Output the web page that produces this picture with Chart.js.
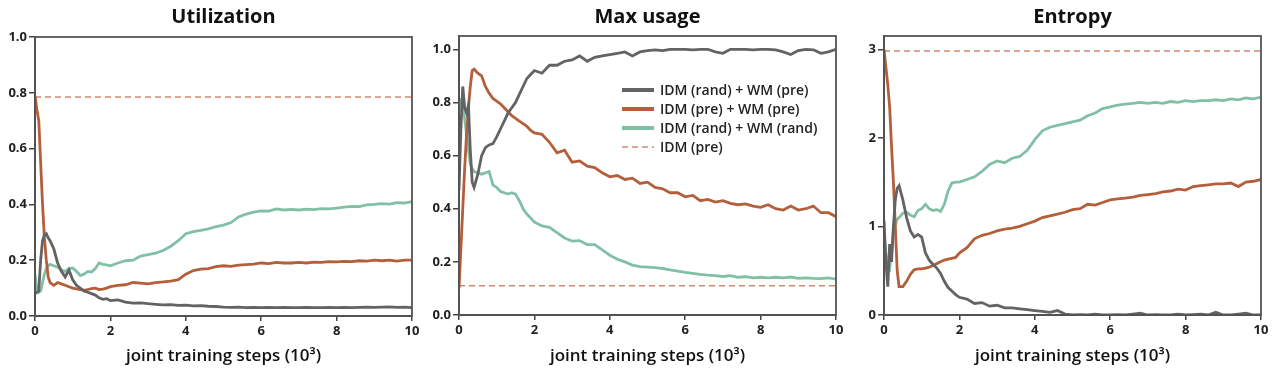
<!DOCTYPE html>
<html>
<head>
<meta charset="utf-8">
<script src="https://cdn.jsdelivr.net/npm/chart.js@4.4.1/dist/chart.umd.min.js"></script>
<style>
  html, body { margin: 0; padding: 0; background: #fff; }
  body { width: 1280px; height: 369px; position: relative; overflow: hidden; }
  .panel { position: absolute; top: 0; height: 369px; }
</style>
</head>
<body>
<div class="panel" style="left:0;width:424px"><canvas id="util"></canvas></div>
<div class="panel" style="left:424px;width:424px"><canvas id="maxu"></canvas></div>
<div class="panel" style="left:848px;width:432px"><canvas id="entropy"></canvas></div>
<script>
// training steps (x 10^3)
const steps = [0, 0.05, 0.1, 0.15, 0.2, 0.25, 0.3, 0.35, 0.4, 0.5, 0.6, 0.7, 0.8, 0.9, 1.0,
  1.1, 1.2, 1.3, 1.4, 1.5, 1.6, 1.7, 1.8, 1.9, 2.0, 2.2, 2.4, 2.6, 2.8, 3.0, 3.2, 3.4, 3.6, 3.8,
  4.0, 4.2, 4.4, 4.6, 4.8, 5.0, 5.2, 5.4, 5.6, 5.8, 6.0, 6.2, 6.4, 6.6, 6.8, 7.0, 7.2, 7.4, 7.6,
  7.8, 8.0, 8.2, 8.4, 8.6, 8.8, 9.0, 9.2, 9.4, 9.6, 9.8, 10.0]

const labels = ['IDM (rand) + WM (pre)', 'IDM (pre) + WM (pre)', 'IDM (rand) + WM (rand)', 'IDM (pre)']
const colors = ['#636363', '#b45f3b', '#82c0a6', '#cf8a6e']

// Utilization
const utilRandPre = [0.08, 0.085, 0.09, 0.2, 0.27, 0.29, 0.295, 0.28, 0.27, 0.24, 0.19, 0.16, 0.14, 0.165, 0.13,
  0.11, 0.1, 0.09, 0.085, 0.08, 0.075, 0.065, 0.06, 0.062, 0.055, 0.058, 0.05, 0.046, 0.047, 0.044, 0.042, 0.04, 0.041, 0.038,
  0.039, 0.036, 0.037, 0.035, 0.034, 0.032, 0.031, 0.032, 0.03, 0.031, 0.03, 0.031, 0.03, 0.031, 0.03, 0.03, 0.031, 0.03, 0.03,
  0.031, 0.03, 0.031, 0.03, 0.031, 0.032, 0.031, 0.032, 0.033, 0.031, 0.032, 0.03]
const utilPrePre = [0.79, 0.74, 0.7, 0.55, 0.4, 0.28, 0.2, 0.14, 0.12, 0.11, 0.12, 0.115, 0.11, 0.105, 0.1,
  0.097, 0.095, 0.092, 0.095, 0.098, 0.1, 0.095, 0.096, 0.1, 0.105, 0.11, 0.112, 0.12, 0.118, 0.115, 0.12, 0.122, 0.125, 0.13,
  0.15, 0.163, 0.168, 0.17, 0.177, 0.18, 0.178, 0.182, 0.184, 0.186, 0.19, 0.188, 0.192, 0.19, 0.19, 0.192, 0.19, 0.193, 0.192,
  0.195, 0.194, 0.196, 0.195, 0.198, 0.197, 0.2, 0.198, 0.2, 0.197, 0.2, 0.2]
const utilRandRand = [0.15, 0.1, 0.085, 0.09, 0.12, 0.15, 0.17, 0.18, 0.185, 0.18, 0.175, 0.165, 0.16, 0.17, 0.172,
  0.16, 0.145, 0.15, 0.16, 0.158, 0.17, 0.19, 0.185, 0.183, 0.18, 0.19, 0.198, 0.2, 0.215, 0.22, 0.225, 0.235, 0.25, 0.27,
  0.295, 0.302, 0.307, 0.312, 0.32, 0.326, 0.335, 0.355, 0.365, 0.372, 0.377, 0.376, 0.384, 0.38, 0.382, 0.38, 0.383, 0.381, 0.385,
  0.384, 0.387, 0.39, 0.393, 0.392, 0.398, 0.4, 0.403, 0.401, 0.406, 0.405, 0.41]
const utilPre = 0.785

// Max usage
const maxRandPre = [0.47, 0.7, 0.86, 0.78, 0.76, 0.79, 0.62, 0.5, 0.48, 0.53, 0.6, 0.63, 0.64, 0.645, 0.67,
  0.7, 0.73, 0.76, 0.78, 0.8, 0.83, 0.86, 0.89, 0.905, 0.92, 0.91, 0.94, 0.94, 0.955, 0.96, 0.975, 0.955, 0.97, 0.975,
  0.98, 0.985, 0.99, 0.975, 0.99, 0.995, 0.998, 0.995, 1.0, 1.0, 1.0, 0.998, 1.0, 1.0, 0.99, 0.985, 1.0, 1.0, 1.0,
  0.998, 1.0, 1.0, 0.998, 0.99, 0.98, 0.995, 1.0, 0.998, 0.985, 0.99, 1.0]
const maxPrePre = [0.1, 0.25, 0.4, 0.55, 0.68, 0.78, 0.86, 0.92, 0.925, 0.91, 0.9, 0.86, 0.835, 0.815, 0.805,
  0.795, 0.78, 0.765, 0.75, 0.74, 0.73, 0.72, 0.71, 0.695, 0.685, 0.68, 0.65, 0.61, 0.62, 0.575, 0.58, 0.56, 0.555, 0.535,
  0.52, 0.525, 0.51, 0.515, 0.495, 0.5, 0.48, 0.475, 0.46, 0.46, 0.445, 0.45, 0.43, 0.435, 0.425, 0.43, 0.42, 0.415, 0.418,
  0.41, 0.405, 0.415, 0.4, 0.395, 0.41, 0.395, 0.4, 0.41, 0.385, 0.385, 0.37]
const maxRandRand = [0.76, 0.8, 0.78, 0.74, 0.68, 0.62, 0.57, 0.55, 0.54, 0.535, 0.53, 0.535, 0.54, 0.49, 0.48,
  0.465, 0.46, 0.455, 0.46, 0.455, 0.43, 0.4, 0.38, 0.365, 0.35, 0.335, 0.33, 0.31, 0.29, 0.278, 0.28, 0.265, 0.265, 0.245,
  0.225, 0.21, 0.2, 0.188, 0.182, 0.18, 0.178, 0.175, 0.17, 0.165, 0.16, 0.157, 0.153, 0.15, 0.148, 0.145, 0.148, 0.142, 0.144,
  0.14, 0.142, 0.14, 0.142, 0.14, 0.143, 0.138, 0.14, 0.138, 0.137, 0.14, 0.135]
const maxPre = 0.11

// Entropy
const entRandPre = [1.07, 0.6, 0.32, 0.8, 0.6, 1.0, 1.3, 1.43, 1.46, 1.3, 1.1, 0.95, 0.88, 0.91, 0.88,
  0.7, 0.62, 0.57, 0.53, 0.47, 0.38, 0.31, 0.27, 0.23, 0.2, 0.18, 0.13, 0.14, 0.1, 0.11, 0.08, 0.08, 0.07, 0.06,
  0.05, 0.04, 0.03, 0.05, 0.01, 0.0, 0.005, 0.0, 0.01, 0.0, 0.0, 0.005, 0.0, 0.01, 0.02, 0.0, 0.005, 0.0, 0.0,
  0.01, 0.0, 0.005, 0.01, 0.0, 0.03, 0.0, 0.0, 0.01, 0.02, 0.0, 0.0]
const entPrePre = [3.0, 2.8, 2.6, 2.35, 1.9, 1.5, 1.0, 0.5, 0.32, 0.32, 0.38, 0.46, 0.51, 0.52, 0.52,
  0.53, 0.54, 0.56, 0.58, 0.6, 0.62, 0.63, 0.64, 0.65, 0.7, 0.76, 0.86, 0.9, 0.92, 0.95, 0.97, 0.98, 1.0, 1.03,
  1.06, 1.1, 1.12, 1.14, 1.16, 1.19, 1.2, 1.25, 1.24, 1.27, 1.3, 1.31, 1.32, 1.33, 1.35, 1.36, 1.37, 1.39, 1.4,
  1.42, 1.41, 1.45, 1.46, 1.47, 1.48, 1.48, 1.49, 1.45, 1.5, 1.51, 1.53]
const entRandRand = [0.9, 0.7, 0.55, 0.52, 0.7, 0.95, 1.02, 1.08, 1.1, 1.15, 1.16, 1.13, 1.11, 1.18, 1.2,
  1.25, 1.2, 1.18, 1.19, 1.17, 1.25, 1.4, 1.49, 1.5, 1.5, 1.53, 1.56, 1.62, 1.7, 1.74, 1.72, 1.77, 1.79, 1.86,
  1.98, 2.08, 2.12, 2.14, 2.16, 2.18, 2.2, 2.25, 2.28, 2.33, 2.35, 2.37, 2.38, 2.39, 2.4, 2.39, 2.4, 2.39, 2.41,
  2.4, 2.42, 2.41, 2.42, 2.42, 2.43, 2.42, 2.44, 2.43, 2.45, 2.44, 2.46]
const entPre = 2.98

const FONT = "'Open Sans', 'DejaVu Sans', sans-serif"
Chart.defaults.font.family = FONT
Chart.defaults.color = '#222'

const pts = ys => ys.map((y, i) => ({ x: steps[i], y }))

// title above the plot, closed frame round it, legend inside for the middle panel
const framePlugin = {
  id: 'frame',
  afterDraw(chart, args, opts) {
    const { ctx, chartArea: a } = chart
    ctx.save()
    ctx.strokeStyle = '#555'
    ctx.lineWidth = 1.8
    ctx.strokeRect(a.left, a.top, a.right - a.left, a.bottom - a.top)
    ctx.fillStyle = '#111'
    ctx.font = `bold 20px ${FONT}`
    ctx.textAlign = 'center'
    ctx.textBaseline = 'middle'
    ctx.fillText(opts.title, (a.left + a.right) / 2, 17)
    if (opts.legend) {
      ctx.font = `600 14px ${FONT}`
      ctx.textAlign = 'left'
      chart.data.datasets.forEach((ds, i) => {
        const y = a.top + 54 + i * 19
        const x0 = a.right - 214
        ctx.strokeStyle = ds.borderColor
        ctx.lineWidth = ds.borderDash ? 1.5 : 4
        ctx.setLineDash(ds.borderDash || [])
        ctx.beginPath()
        ctx.moveTo(x0, y)
        ctx.lineTo(x0 + 32, y)
        ctx.stroke()
        ctx.setLineDash([])
        ctx.fillStyle = '#222'
        ctx.fillText(ds.label, x0 + 38, y + 1)
      })
    }
    ctx.restore()
  }
}

function makeChart(id, title, series, base, yMax, yStep, decimals, pad, yWidth, xHeight, legend) {
  const datasets = series.map((s, i) => ({
    label: labels[i],
    data: pts(s),
    borderColor: colors[i],
    borderWidth: 2.8,
    pointRadius: 0,
    tension: 0
  }))
  datasets.push({
    label: labels[3],
    data: [{ x: steps[0], y: base }, { x: steps[steps.length - 1], y: base }],
    borderColor: colors[3],
    borderWidth: 1.5,
    borderDash: [6, 4],
    pointRadius: 0
  })
  new Chart(document.getElementById(id), {
    type: 'line',
    data: { datasets },
    options: {
      responsive: true,
      maintainAspectRatio: false,
      animation: false,
      layout: { padding: pad },
      plugins: {
        legend: { display: false },
        tooltip: { enabled: false },
        frame: { title, legend }
      },
      scales: {
        x: {
          type: 'linear',
          min: 0,
          max: 10,
          ticks: { stepSize: 2, padding: 2, font: { size: 13, weight: 'bold' }, color: '#222', maxRotation: 0 },
          grid: { drawOnChartArea: false, tickLength: 5, color: '#444', lineWidth: 1.5 },
          border: { color: '#444', width: 2 },
          title: { display: true, text: 'joint training steps (10³)', font: { size: 17, weight: '600' }, color: '#111', padding: 0 },
          afterFit: s => { s.height = xHeight }
        },
        y: {
          min: 0,
          max: yMax,
          ticks: {
            stepSize: yStep,
            includeBounds: false,
            padding: 2,
            font: { size: 13, weight: 'bold' },
            color: '#222',
            callback: v => v.toFixed(decimals)
          },
          grid: { drawOnChartArea: false, tickLength: 6, color: '#444', lineWidth: 1.5 },
          border: { color: '#444', width: 2 },
          afterFit: s => { s.width = yWidth }
        }
      }
    },
    plugins: [framePlugin]
  })
}

makeChart('util', 'Utilization', [utilRandPre, utilPrePre, utilRandRand], utilPre, 1.0, 0.2, 1,
  { top: 37, bottom: 3, left: 0, right: 12 }, 35, 50, false)
makeChart('maxu', 'Max usage', [maxRandPre, maxPrePre, maxRandRand], maxPre, 1.05, 0.2, 1,
  { top: 36, bottom: 3, left: 0, right: 12 }, 35, 51, true)
makeChart('entropy', 'Entropy', [entRandPre, entPrePre, entRandRand], entPre, 3.15, 1, 0,
  { top: 36, bottom: 3, left: 0, right: 19 }, 36, 51, false)
</script>
</body>
</html>
